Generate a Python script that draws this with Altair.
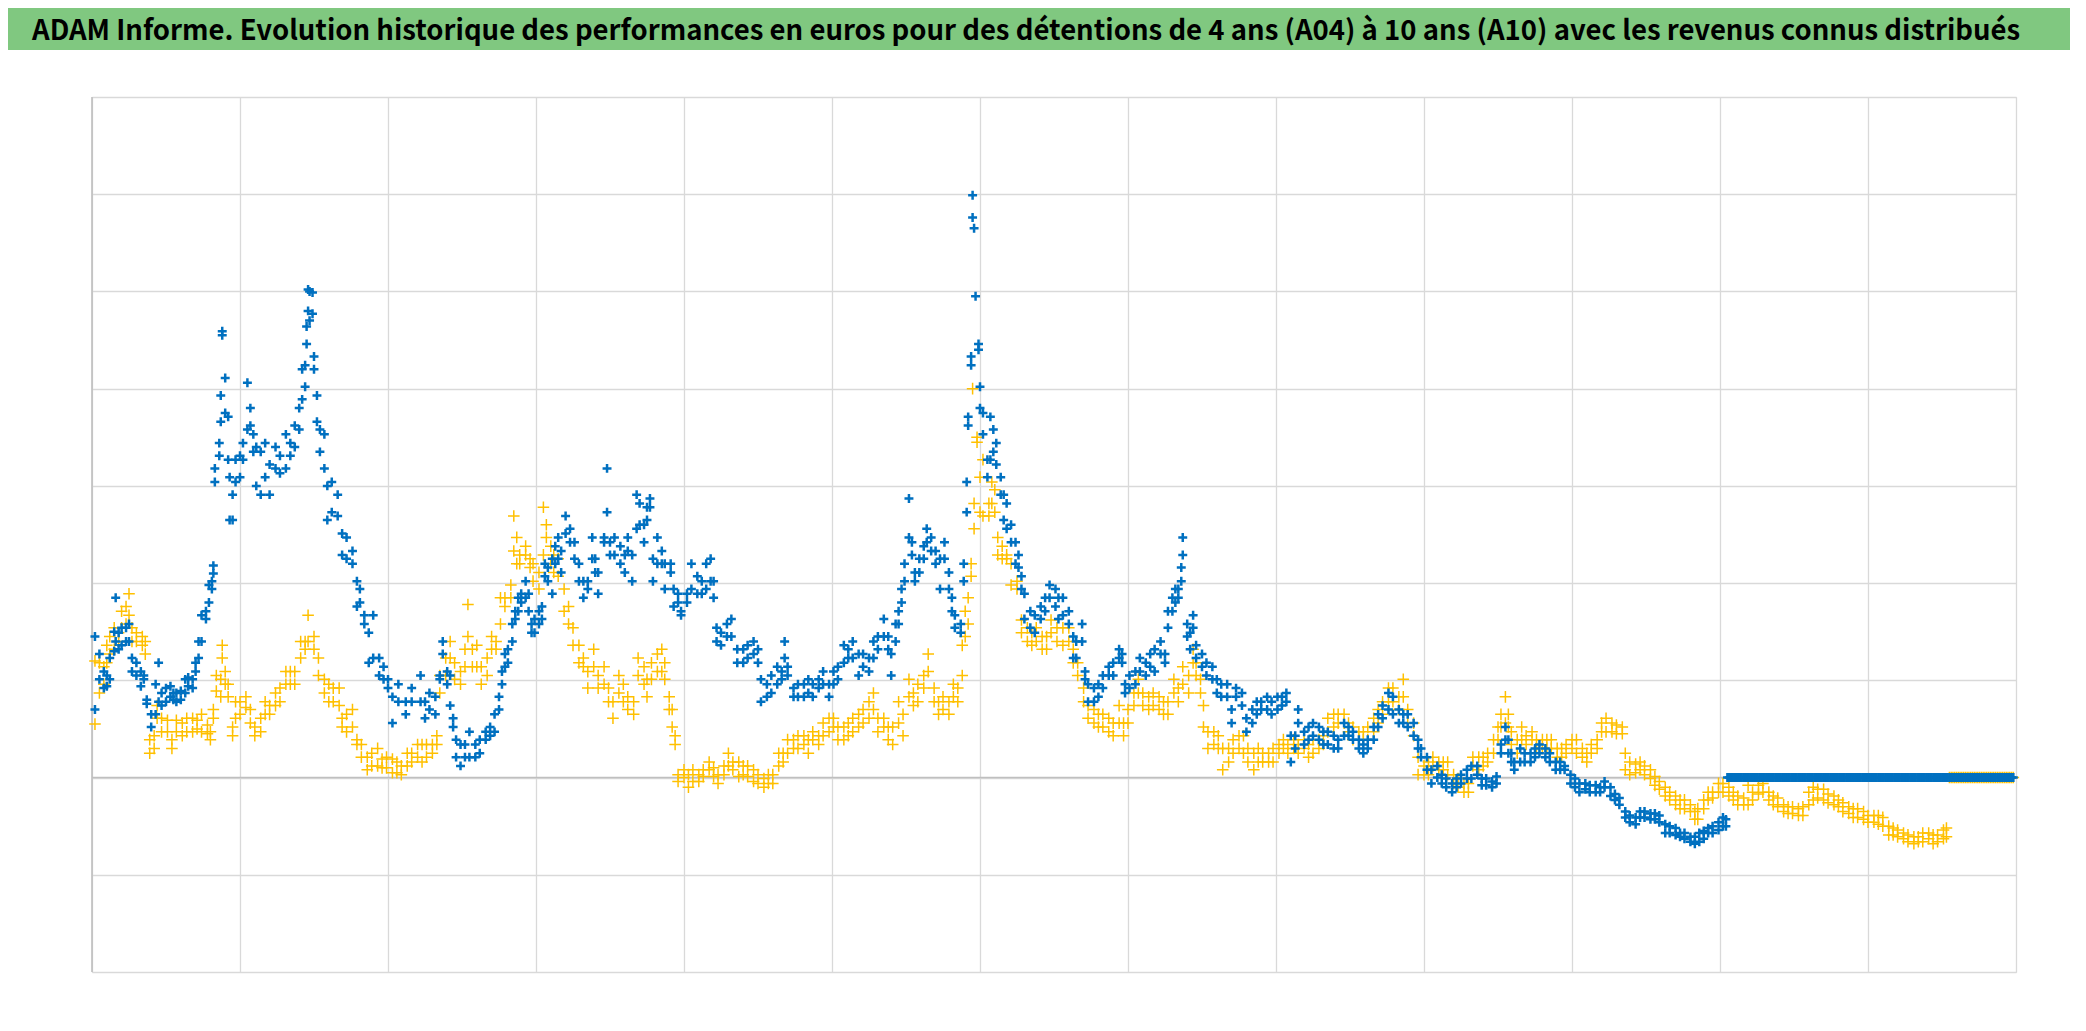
import altair as alt
import pandas as pd
import numpy as np

TITLE = "ADAM Informe. Evolution historique des performances en euros pour des détentions de 4 ans (A04) à 10 ans (A10) avec les revenus connus distribués"

# x gridline positions (13 periods) and y gridline values
X_TICKS = list(range(0, 14))
Y_TICKS = list(range(-2, 8))

# ---- Blue series (A04): (x, upper edge of cloud, lower edge of cloud) ----
blue_seg1 = [(0.02,1.45,0.70),(0.05,1.27,1.01),(0.08,1.09,0.92),(0.10,1.05,0.94),(0.12,1.23,1.01),(0.15,1.50,1.30),
 (0.16,1.85,1.40),(0.18,1.49,1.32),(0.20,1.54,1.36),(0.23,1.54,1.40),(0.25,1.58,1.40),(0.27,1.23,1.09),(0.30,1.18,1.05),
 (0.33,1.09,0.94),(0.35,1.05,1.01),(0.37,0.80,0.76),(0.40,0.65,0.52),(0.43,0.96,0.65),(0.45,1.18,0.78),(0.47,0.87,0.74),
 (0.50,0.92,0.78),(0.53,0.94,0.83),(0.55,0.87,0.80),(0.57,0.87,0.78),(0.60,0.89,0.80),(0.63,1.01,0.87),(0.65,1.03,0.94),
 (0.68,1.01,0.92),(0.70,1.18,1.09),(0.72,1.40,1.23),(0.74,1.67,1.40),(0.77,1.71,1.63),(0.79,1.98,1.80),(0.81,2.02,1.94),
 (0.82,2.18,2.10),(0.83,3.18,3.04),(0.86,3.44,3.31),(0.87,3.93,3.66),(0.88,4.59,4.55),(0.90,4.11,3.75),(0.92,3.71,3.27),
 (0.93,3.09,2.65),(0.95,2.91,2.65),(0.97,3.27,3.04),(1.00,3.31,3.09),(1.02,3.44,3.27),(1.05,4.06,3.58),(1.07,3.80,3.62),
 (1.09,3.53,3.35),(1.11,3.40,3.00),(1.14,3.35,2.91),(1.17,3.44,3.09),(1.20,3.22,2.91),(1.24,3.40,3.18),(1.27,3.31,3.13),
 (1.31,3.53,3.18),(1.34,3.44,3.31),(1.37,3.62,3.40),(1.40,3.80,3.58),(1.42,4.20,3.89),(1.44,4.24,4.02),(1.45,4.64,4.46),
 (1.46,5.02,4.80),(1.47,5.00,4.70),(1.49,4.99,4.77),(1.50,4.33,4.20),(1.52,3.93,3.66),(1.54,3.58,3.35),(1.57,3.53,3.18),
 (1.59,3.00,2.65),(1.62,3.04,2.73),(1.66,2.91,2.69),(1.69,2.51,2.29),(1.72,2.47,2.25),(1.76,2.33,2.20),(1.79,2.02,1.76),
 (1.81,1.94,1.80),(1.84,1.67,1.58),(1.87,1.49,1.18),(1.90,1.67,1.23),(1.94,1.23,1.05),(1.97,1.14,1.01),(2.00,1.01,0.92),
 (2.03,0.83,0.56),(2.07,0.96,0.78),(2.12,0.78,0.65),(2.16,0.92,0.78),(2.22,1.05,0.78)]
blue_seg2 = [(2.25,0.78,0.61),(2.28,0.87,0.70),(2.32,0.83,0.65),(2.35,1.05,1.01),(2.37,1.40,1.27),(2.40,1.09,0.96),
 (2.42,1.05,0.74),(2.44,0.61,0.52),(2.46,0.39,0.21),(2.49,0.34,0.12),(2.52,0.34,0.21),(2.55,0.47,0.21),(2.59,0.34,0.21),
 (2.62,0.39,0.25),(2.66,0.47,0.39),(2.69,0.52,0.43),(2.72,0.65,0.47),(2.75,0.83,0.70),(2.77,1.09,0.96),(2.79,1.27,1.14),
 (2.81,1.32,1.18),(2.84,1.58,1.40),(2.86,1.71,1.63),(2.88,1.85,1.71),(2.90,1.89,1.80),(2.93,2.02,1.85),(2.95,1.89,1.71),
 (2.97,1.58,1.49),(2.99,1.63,1.49),(3.02,1.71,1.58),(3.04,1.76,1.63),(3.06,2.20,2.07),(3.08,2.16,2.02),(3.11,2.25,1.89),
 (3.13,2.38,2.20),(3.15,2.47,2.25),(3.17,2.33,2.11),(3.20,2.69,2.51),(3.23,2.56,2.42),(3.26,2.42,2.25),(3.29,2.20,2.02),
 (3.32,2.02,1.85),(3.35,2.02,1.94),(3.38,2.47,2.25),(3.40,2.25,2.11),(3.42,2.11,1.89),(3.46,2.47,2.42),(3.48,3.18,2.73),
 (3.50,2.42,2.29),(3.53,2.47,2.29),(3.57,2.38,2.20),(3.60,2.29,2.11),(3.62,2.47,2.33),(3.65,2.29,2.02),(3.68,2.91,2.56),
 (3.70,2.82,2.60),(3.73,2.60,2.42),(3.75,2.78,2.65),(3.77,2.87,2.78),(3.79,2.25,2.02),(3.82,2.47,2.20),(3.85,2.33,2.20),
 (3.87,2.20,1.94),(3.91,2.20,2.11),(3.93,1.94,1.76),(3.96,1.89,1.80),(3.98,1.71,1.67),(4.02,1.89,1.80),(4.05,2.20,1.94),
 (4.09,2.07,1.89),(4.12,2.02,1.89),(4.15,2.20,1.94),(4.18,2.25,2.02),(4.20,2.02,1.85),(4.22,1.54,1.40),(4.25,1.49,1.36),
 (4.29,1.58,1.45),(4.32,1.63,1.45),(4.36,1.32,1.18)]
blue_seg3 = [(4.40,1.32,1.18),(4.43,1.36,1.23),(4.47,1.40,1.27),(4.50,1.32,1.18),(4.52,1.01,0.78),(4.56,0.96,0.83),
 (4.59,1.05,0.87),(4.63,1.14,0.96),(4.66,1.09,1.01),(4.68,1.40,1.23),(4.70,1.14,1.05),(4.74,0.92,0.83),(4.77,0.96,0.83),
 (4.81,0.96,0.83),(4.84,1.01,0.87),(4.87,0.96,0.83),(4.91,1.01,0.92),(4.94,1.09,0.96),(4.98,0.96,0.83),(5.01,1.09,0.96),
 (5.04,1.14,1.01),(5.08,1.36,1.18),(5.11,1.32,1.23),(5.14,1.40,1.23),(5.18,1.27,1.05),(5.21,1.27,1.14),(5.25,1.23,1.09),
 (5.28,1.40,1.23),(5.31,1.45,1.32),(5.35,1.63,1.45),(5.38,1.45,1.32),(5.40,1.27,1.05),(5.43,1.58,1.40),(5.45,1.71,1.58),
 (5.47,1.94,1.80),(5.49,2.20,2.02),(5.52,2.87,2.47),(5.54,2.42,2.29),(5.56,2.11,2.02),(5.59,2.25,2.11),(5.62,2.38,2.25),
 (5.64,2.56,2.42),(5.67,2.47,2.33),(5.70,2.33,2.20),(5.73,2.25,1.94),(5.76,2.42,2.25),(5.79,2.11,1.94),(5.81,1.85,1.71),
 (5.83,1.67,1.54),(5.87,1.58,1.49),(5.89,2.20,2.02),(5.91,3.04,2.73),(5.92,3.71,3.62),(5.94,4.33,4.24),(5.95,5.99,5.76),
 (5.96,5.65,5.65),(5.97,4.95,4.95),(5.99,4.46,4.40),(6.00,4.02,3.80),(6.02,3.75,3.53),(6.05,3.27,3.09),(6.07,3.71,3.27),
 (6.09,3.58,3.35),(6.11,3.44,3.22),(6.14,3.09,2.91),(6.16,2.91,2.65),(6.18,2.82,2.56),(6.21,2.60,2.42),(6.24,2.42,2.20),
 (6.26,2.29,2.16),(6.28,2.07,1.94),(6.30,1.89,1.63),(6.34,1.71,1.54),(6.37,1.67,1.49),(6.41,1.76,1.63),(6.44,1.85,1.71),
 (6.47,1.98,1.85),(6.51,1.94,1.76),(6.53,1.85,1.63)]
blue_seg4 = [(6.56,1.85,1.67),(6.60,1.71,1.58),(6.63,1.45,1.23),(6.65,1.40,1.23),(6.69,1.58,1.40),(6.71,1.09,1.01),
 (6.73,0.96,0.78),(6.77,0.92,0.78),(6.80,0.96,0.83),(6.83,1.05,0.92),(6.87,1.14,1.05),(6.90,1.18,1.05),(6.94,1.32,1.23),
 (6.96,1.27,1.18),(6.98,0.96,0.87),(7.01,1.05,0.92),(7.05,1.09,0.96),(7.08,1.23,1.09),(7.12,1.18,1.05),(7.15,1.27,1.14),
 (7.18,1.32,1.09),(7.22,1.40,1.27),(7.25,1.27,1.18),(7.27,1.71,1.54),(7.30,1.85,1.71),(7.32,1.94,1.80),(7.34,1.94,1.85),
 (7.36,2.16,2.02),(7.37,2.47,2.29),(7.40,1.58,1.45),(7.42,1.49,1.32),(7.44,1.67,1.54),(7.46,1.36,1.23),(7.50,1.27,1.14),
 (7.53,1.18,1.05),(7.57,1.14,1.01),(7.60,1.01,0.87),(7.63,0.96,0.83),(7.67,0.96,0.83),(7.70,0.70,0.56),(7.73,0.92,0.83),
 (7.77,0.87,0.74),(7.80,0.61,0.47),(7.84,0.70,0.56),(7.87,0.78,0.65),(7.90,0.78,0.70),(7.94,0.83,0.70),(7.97,0.78,0.65),
 (8.01,0.83,0.70),(8.04,0.83,0.74),(8.07,0.87,0.78),(8.10,0.43,0.16),(8.13,0.43,0.30),(8.15,0.70,0.56),(8.19,0.47,0.34),
 (8.22,0.52,0.39),(8.25,0.56,0.43),(8.29,0.52,0.39),(8.32,0.47,0.34),(8.35,0.47,0.34),(8.39,0.43,0.30),(8.42,0.39,0.30),
 (8.46,0.56,0.43),(8.49,0.52,0.43),(8.52,0.47,0.39),(8.56,0.39,0.30),(8.59,0.34,0.25),(8.62,0.39,0.30),(8.66,0.52,0.39),
 (8.69,0.65,0.52)]
blue_seg5 = [(8.72,0.74,0.61),(8.76,0.87,0.70),(8.79,0.83,0.65),(8.83,0.70,0.56),(8.86,0.65,0.56),(8.89,0.65,0.52),
 (8.93,0.56,0.43),(8.96,0.39,0.30),(8.98,0.30,0.21),(9.02,0.21,0.08),(9.05,0.08,-0.06),(9.09,0.12,0.00),(9.12,0.03,-0.06),
 (9.15,-0.01,-0.10),(9.19,-0.06,-0.15),(9.22,-0.01,-0.10),(9.25,0.03,-0.06),(9.29,0.08,-0.01),(9.32,0.12,-0.01),
 (9.36,0.12,0.03),(9.39,-0.01,-0.08),(9.42,-0.01,-0.08),(9.46,-0.04,-0.10),(9.49,0.01,-0.06),(9.52,0.34,0.25),
 (9.55,0.52,0.39),(9.57,0.39,0.25),(9.59,0.25,0.16),(9.61,0.16,0.08),(9.65,0.30,0.16),(9.68,0.25,0.16),(9.72,0.25,0.16),
 (9.75,0.30,0.21),(9.78,0.34,0.25),(9.82,0.30,0.21),(9.85,0.25,0.16),(9.89,0.16,0.08),(9.92,0.16,0.08),(9.95,0.12,0.08),
 (9.99,0.03,-0.06),(10.02,-0.01,-0.10),(10.05,-0.06,-0.15),(10.09,-0.06,-0.12),(10.12,-0.08,-0.15),(10.16,-0.08,-0.15),
 (10.19,-0.10,-0.15),(10.22,-0.04,-0.10),(10.26,-0.10,-0.19),(10.29,-0.17,-0.23),(10.32,-0.21,-0.28),(10.36,-0.35,-0.41),
 (10.39,-0.39,-0.46),(10.43,-0.41,-0.48),(10.46,-0.35,-0.41),(10.49,-0.35,-0.41),(10.53,-0.37,-0.43),(10.56,-0.37,-0.43),
 (10.59,-0.39,-0.46),(10.63,-0.48,-0.57),(10.66,-0.50,-0.57),(10.70,-0.52,-0.59),(10.73,-0.57,-0.61),(10.76,-0.57,-0.63),
 (10.80,-0.61,-0.66),(10.83,-0.61,-0.68),(10.86,-0.57,-0.66),(10.89,-0.55,-0.63),(10.92,-0.52,-0.57),(10.95,-0.50,-0.57),
 (10.99,-0.46,-0.54),(11.02,-0.41,-0.50),(11.04,-0.43,-0.50)]
# blue flat at zero (no more value) from x=11.05 to 12.99
blue_flat = (11.05, 12.99, 0.0)

# ---- Yellow series (A10) ----
yel_seg1 = [(0.02,1.20,0.55),(0.05,1.18,0.87),(0.08,1.14,0.96),(0.10,1.36,1.18),(0.12,1.45,1.27),(0.15,1.54,1.32),
 (0.18,1.49,1.40),(0.20,1.71,1.54),(0.23,1.76,1.58),(0.25,1.89,1.67),(0.27,1.54,1.40),(0.30,1.49,1.40),(0.34,1.45,1.36),
 (0.36,1.40,1.27),(0.39,0.39,0.25),(0.42,0.43,0.30),(0.44,0.74,0.61),(0.47,0.61,0.47),(0.51,0.59,0.47),(0.54,0.39,0.30),
 (0.57,0.59,0.47),(0.61,0.56,0.43),(0.64,0.61,0.47),(0.68,0.61,0.47),(0.71,0.59,0.50),(0.74,0.65,0.47),(0.78,0.54,0.45),
 (0.80,0.47,0.39),(0.82,0.70,0.61),(0.84,1.05,0.89),(0.87,1.01,0.83),(0.88,1.36,1.23),(0.90,1.09,0.96),(0.92,0.96,0.83),
 (0.95,0.52,0.43),(0.97,0.78,0.61),(1.00,0.78,0.65),(1.04,0.83,0.72),(1.07,0.70,0.56),(1.10,0.52,0.43),(1.14,0.61,0.47),
 (1.17,0.78,0.65),(1.20,0.74,0.65),(1.24,0.87,0.74),(1.27,0.92,0.78),(1.31,1.09,0.96),(1.34,1.09,0.96),(1.37,1.09,0.96),
 (1.41,1.40,1.23),(1.44,1.40,1.32),(1.46,1.67,1.40),(1.50,1.45,1.32),(1.53,1.23,1.05),(1.57,1.01,0.87),(1.60,0.96,0.78),
 (1.63,0.92,0.78),(1.67,0.92,0.74),(1.69,0.61,0.52),(1.72,0.65,0.47),(1.76,0.70,0.52),(1.79,0.39,0.34),(1.82,0.34,0.21),
 (1.86,0.21,0.08),(1.89,0.25,0.12),(1.93,0.30,0.12),(1.96,0.19,0.10),(1.99,0.21,0.10),(2.03,0.19,0.05),(2.06,0.16,0.05),
 (2.09,0.12,0.03),(2.13,0.25,0.12),(2.16,0.25,0.16),(2.20,0.34,0.21)]
yel_seg2 = [(2.23,0.34,0.16),(2.26,0.34,0.21),(2.30,0.34,0.25),(2.33,0.43,0.34),(2.35,1.05,0.87),(2.39,1.23,1.05),
 (2.42,1.40,1.23),(2.45,1.18,1.01),(2.49,1.09,0.96),(2.52,1.32,1.14),(2.54,1.78,1.45),(2.57,1.32,1.14),(2.60,1.36,1.14),
 (2.63,1.14,0.96),(2.67,1.23,1.05),(2.70,1.45,1.32),(2.73,1.40,1.32),(2.76,1.85,1.58),(2.79,1.85,1.76),(2.83,1.98,1.85),
 (2.85,2.69,2.33),(2.87,2.47,2.20),(2.89,2.29,2.20),(2.93,2.38,2.29),(2.96,2.25,2.16),(2.98,2.20,2.02),(3.02,2.11,1.94),
 (3.05,2.78,2.29),(3.07,2.60,2.47),(3.10,2.38,2.20),(3.12,2.29,2.11),(3.15,2.25,2.07),(3.19,1.94,1.71),(3.22,1.76,1.58),
 (3.25,1.54,1.36),(3.29,1.36,1.18),(3.32,1.23,1.14),(3.35,1.09,0.92),(3.39,1.32,1.14),(3.42,1.05,0.92),(3.46,1.14,0.96),
 (3.49,0.92,0.78),(3.52,0.78,0.61),(3.56,1.05,0.87),(3.59,0.96,0.78),(3.62,0.83,0.70),(3.66,0.78,0.65),(3.69,1.23,1.05),
 (3.73,1.14,0.96),(3.75,1.01,0.83),(3.78,1.18,1.01),(3.82,1.27,1.09),(3.85,1.32,1.09),(3.87,1.18,1.01),(3.90,0.83,0.70),
 (3.92,0.70,0.52),(3.94,0.43,0.34),(3.96,0.03,-0.04),(4.00,0.08,0.00),(4.03,0.03,-0.10),(4.06,0.08,-0.04),(4.10,0.03,-0.04),
 (4.13,0.08,0.01),(4.17,0.16,0.08),(4.20,0.10,0.01),(4.23,0.03,-0.06),(4.27,0.12,0.03),(4.30,0.25,0.12),(4.33,0.16,0.08),
 (4.37,0.16,0.01)]
yel_seg3 = [(4.40,0.12,0.03),(4.43,0.12,0.01),(4.47,0.08,-0.04),(4.50,0.03,-0.06),(4.54,-0.01,-0.10),(4.57,0.03,-0.06),
 (4.60,0.03,-0.06),(4.64,0.25,0.12),(4.67,0.25,0.16),(4.70,0.39,0.25),(4.74,0.39,0.30),(4.77,0.43,0.30),(4.81,0.43,0.34),
 (4.84,0.39,0.25),(4.87,0.47,0.39),(4.91,0.43,0.34),(4.94,0.56,0.43),(4.98,0.61,0.47),(5.01,0.61,0.52),(5.04,0.52,0.39),
 (5.08,0.52,0.39),(5.11,0.56,0.43),(5.14,0.61,0.47),(5.18,0.65,0.52),(5.21,0.70,0.56),(5.25,0.78,0.61),(5.28,0.87,0.70),
 (5.31,0.61,0.47),(5.35,0.61,0.52),(5.38,0.52,0.39),(5.41,0.52,0.34),(5.45,0.78,0.56),(5.48,0.65,0.43),(5.52,1.01,0.83),
 (5.55,0.87,0.74),(5.58,0.96,0.78),(5.62,1.05,0.92),(5.65,1.27,1.09),(5.69,0.92,0.78),(5.72,0.78,0.65),(5.75,0.83,0.70),
 (5.79,0.78,0.65),(5.82,0.96,0.83),(5.85,0.92,0.78),(5.88,1.36,1.05),(5.90,1.71,1.45),(5.92,1.85,1.58),(5.94,2.20,2.07),
 (5.95,4.00,4.00),(5.96,2.82,2.56),(5.98,3.50,3.45),(6.00,3.09,2.73),(6.02,3.27,2.69),(6.06,2.82,2.69),(6.08,3.04,2.82),
 (6.10,2.96,2.73),(6.12,2.47,2.29),(6.15,2.38,2.25),(6.18,2.29,2.25),(6.21,2.20,1.98),(6.25,2.02,1.94),(6.28,1.62,1.49),
 (6.32,1.54,1.40),(6.35,1.49,1.36),(6.38,1.54,1.40),(6.42,1.45,1.32),(6.45,1.45,1.32),(6.48,1.62,1.49),(6.52,1.54,1.40)]
yel_seg4 = [(6.56,1.54,1.36),(6.60,1.54,1.40),(6.63,1.32,1.18),(6.66,1.18,1.05),(6.70,0.92,0.78),(6.73,0.74,0.61),
 (6.77,0.70,0.56),(6.80,0.65,0.52),(6.83,0.65,0.52),(6.87,0.61,0.47),(6.90,0.56,0.43),(6.94,0.74,0.56),(6.97,0.56,0.43),
 (7.00,0.70,0.56),(7.04,0.87,0.74),(7.07,1.01,0.87),(7.10,0.87,0.74),(7.14,0.83,0.70),(7.17,0.87,0.74),(7.21,0.83,0.70),
 (7.24,0.78,0.65),(7.27,0.78,0.65),(7.31,1.01,0.87),(7.34,0.92,0.78),(7.37,1.14,0.96),(7.41,1.05,0.87),(7.44,1.32,1.18),
 (7.46,1.18,1.05),(7.49,1.01,0.87),(7.51,0.74,0.52),(7.54,0.47,0.30),(7.58,0.47,0.34),(7.61,0.43,0.30),(7.64,0.30,0.08),
 (7.68,0.30,0.16),(7.71,0.39,0.25),(7.75,0.43,0.30),(7.78,0.43,0.25),(7.81,0.30,0.16),(7.85,0.25,0.08),(7.88,0.30,0.16),
 (7.91,0.25,0.16),(7.95,0.25,0.16),(7.98,0.30,0.16),(8.02,0.34,0.25),(8.05,0.39,0.30),(8.08,0.34,0.25),(8.12,0.39,0.30),
 (8.15,0.34,0.25),(8.19,0.39,0.30),(8.22,0.34,0.21),(8.25,0.39,0.25),(8.29,0.39,0.30),(8.32,0.43,0.34),(8.35,0.61,0.47),
 (8.39,0.65,0.52),(8.42,0.65,0.56),(8.46,0.65,0.56),(8.49,0.56,0.47),(8.52,0.52,0.39),(8.56,0.47,0.39),(8.59,0.47,0.39),
 (8.62,0.52,0.39),(8.66,0.61,0.47),(8.69,0.70,0.56)]
yel_seg5 = [(8.72,0.78,0.65),(8.76,0.92,0.78),(8.79,0.92,0.78),(8.83,0.83,0.70),(8.86,1.01,0.83),(8.89,0.70,0.56),
 (8.93,0.56,0.43),(8.96,0.21,0.03),(9.00,0.12,0.03),(9.03,0.16,0.03),(9.06,0.21,0.12),(9.10,0.16,0.08),(9.13,0.16,0.08),
 (9.16,0.16,0.03),(9.20,0.03,-0.06),(9.23,-0.01,-0.10),(9.27,-0.06,-0.15),(9.30,-0.06,-0.15),(9.33,0.21,0.12),
 (9.37,0.21,0.08),(9.40,0.21,0.12),(9.43,0.25,0.16),(9.47,0.39,0.25),(9.50,0.52,0.39),(9.52,0.65,0.52),(9.55,0.83,0.56),
 (9.57,0.65,0.52),(9.59,0.47,0.34),(9.63,0.39,0.25),(9.66,0.52,0.39),(9.69,0.43,0.34),(9.73,0.47,0.39),(9.76,0.39,0.30),
 (9.80,0.39,0.30),(9.83,0.39,0.30),(9.86,0.39,0.30),(9.90,0.30,0.21),(9.93,0.30,0.21),(9.96,0.34,0.25),(10.00,0.39,0.30),
 (10.03,0.39,0.25),(10.07,0.30,0.21),(10.10,0.25,0.16),(10.13,0.34,0.25),(10.17,0.39,0.30),(10.20,0.56,0.47),
 (10.23,0.61,0.47),(10.27,0.56,0.47),(10.30,0.54,0.45),(10.34,0.52,0.45),(10.36,0.25,0.08),(10.39,0.16,0.03),
 (10.43,0.14,0.05),(10.46,0.16,0.08),(10.49,0.12,0.03),(10.53,0.08,-0.01),(10.56,0.01,-0.08),(10.59,-0.04,-0.12),
 (10.63,-0.10,-0.19),(10.66,-0.15,-0.23),(10.70,-0.19,-0.28),(10.73,-0.23,-0.32),(10.76,-0.23,-0.32),(10.80,-0.28,-0.35),
 (10.83,-0.35,-0.43)]
yel_seg6 = [(10.85,-0.32,-0.43),(10.89,-0.23,-0.32),(10.92,-0.15,-0.23),(10.95,-0.15,-0.21),(10.99,-0.06,-0.15),
 (11.02,-0.06,-0.15),(11.06,-0.10,-0.19),(11.09,-0.15,-0.23),(11.12,-0.19,-0.28),(11.16,-0.21,-0.28),(11.19,-0.08,-0.28),
 (11.22,-0.15,-0.23),(11.26,-0.08,-0.17),(11.29,-0.06,-0.15),(11.33,-0.15,-0.23),(11.36,-0.19,-0.28),(11.39,-0.21,-0.30),
 (11.43,-0.28,-0.35),(11.46,-0.30,-0.37),(11.49,-0.30,-0.37),(11.53,-0.32,-0.39),(11.56,-0.30,-0.39),(11.60,-0.15,-0.28),
 (11.63,-0.10,-0.23),(11.66,-0.12,-0.21),(11.70,-0.12,-0.23),(11.73,-0.17,-0.26),(11.77,-0.19,-0.28),(11.80,-0.23,-0.30),
 (11.83,-0.26,-0.35),(11.87,-0.30,-0.37),(11.90,-0.32,-0.41),(11.93,-0.32,-0.41),(11.97,-0.35,-0.43),(12.00,-0.39,-0.46),
 (12.04,-0.39,-0.46),(12.07,-0.39,-0.48),(12.10,-0.41,-0.50),(12.14,-0.50,-0.59),(12.17,-0.52,-0.59),(12.20,-0.54,-0.61),
 (12.24,-0.57,-0.63),(12.27,-0.59,-0.66),(12.31,-0.61,-0.68),(12.34,-0.61,-0.66),(12.37,-0.57,-0.66),(12.41,-0.57,-0.63),
 (12.44,-0.59,-0.68),(12.47,-0.59,-0.66),(12.51,-0.54,-0.63),(12.53,-0.52,-0.61)]
yel_flat = (12.55, 12.99, 0.0)


def build(segments, flat, name):
    rows = []
    for seg in segments:
        for x, hi, lo in seg:
            rows.append({"x": x, "v": hi, "s": name})
            if abs(hi - lo) > 1e-9:
                rows.append({"x": x, "v": lo, "s": name})
    for x in np.arange(flat[0], flat[1] + 1e-9, 0.012):
        rows.append({"x": round(float(x), 3), "v": flat[2], "s": name})
    return rows


blue_df = pd.DataFrame(build([blue_seg1, blue_seg2, blue_seg3, blue_seg4, blue_seg5], blue_flat, "A04"))
yel_df = pd.DataFrame(build([yel_seg1, yel_seg2, yel_seg3, yel_seg4, yel_seg5, yel_seg6], yel_flat, "A10"))

W, H = 1924, 875
PAD = {"left": 84, "top": 89, "right": 54, "bottom": 40}
CROSS = "M-1,0L1,0M0,-1L0,1"

xs = alt.Scale(domain=[0, 13], nice=False, zero=False)
ys = alt.Scale(domain=[-2, 7], nice=False, zero=False)
xax = alt.Axis(values=X_TICKS, grid=True, labels=False, ticks=False, domain=False, title=None,
               gridColor="#D9D9D9", gridWidth=1.3)
yax = alt.Axis(values=Y_TICKS, grid=True, labels=False, ticks=False, domain=False, title=None,
               gridColor="#D9D9D9", gridWidth=1.3)

one = pd.DataFrame({"k": [0]})

banner = alt.Chart(one).mark_rect(color="#80C880").encode(
    x=alt.value(-PAD["left"]), x2=alt.value(W + PAD["right"]),
    y=alt.value(-PAD["top"]), y2=alt.value(-47))
title_txt = alt.Chart(one).mark_text(
    align="left", baseline="middle", font="Noto Sans CJK SC",
    fontSize=27.5, fontWeight="bold", color="#000000").encode(
    x=alt.value(-60), y=alt.value(-65), text=alt.value(TITLE))

zero_rule = alt.Chart(one).mark_rule(color="#BFBFBF", strokeWidth=1.6).encode(
    y=alt.datum(0, scale=ys), x=alt.value(0), x2=alt.value(W))
left_rule = alt.Chart(one).mark_rule(color="#BFBFBF", strokeWidth=1.6).encode(
    x=alt.datum(0, scale=xs), y=alt.value(0), y2=alt.value(H))

yel = alt.Chart(yel_df).mark_point(shape=CROSS, filled=False, size=135, strokeWidth=1.5,
                                   color="#FFC000", opacity=1).encode(
    x=alt.X("x:Q", scale=xs, axis=xax), y=alt.Y("v:Q", scale=ys, axis=yax))
blue = alt.Chart(blue_df).mark_point(shape=CROSS, filled=False, size=80, strokeWidth=2.5,
                                     color="#0070C0", opacity=1).encode(
    x=alt.X("x:Q", scale=xs, axis=xax), y=alt.Y("v:Q", scale=ys, axis=yax))

chart = alt.layer(banner, title_txt, zero_rule, left_rule, yel, blue).properties(
    width=W, height=H, autosize=alt.AutoSizeParams(type="none"), padding=PAD
).configure_view(stroke=None).configure(background="#FFFFFF")

chart.save("out.html", embed_options={"renderer": "svg", "actions": False})
